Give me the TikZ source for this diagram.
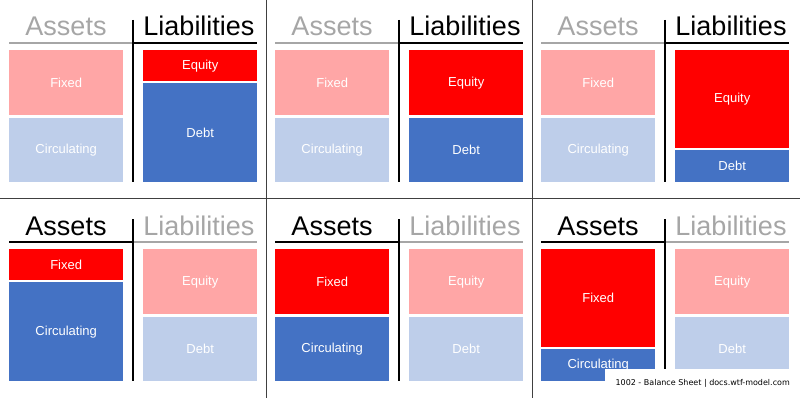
\documentclass[tikz,border=0pt]{standalone}
\usepackage{fontspec}
\setmainfont{Liberation Sans}
\newfontfamily\wmfont{DejaVu Sans}
\usepackage{tikz}
\usetikzlibrary{positioning}
\definecolor{eqred}{HTML}{FF0000}
\definecolor{debtblue}{HTML}{4472C4}
\definecolor{sepgray}{HTML}{404040}
\tikzstyle{block} = [inner sep=0pt, anchor=north west, minimum width=114pt, text=white, font=\fontsize{13}{15}\selectfont]
\tikzstyle{heading} = [inner sep=0pt, anchor=base, font=\fontsize{27}{30}\selectfont]
\tikzstyle{rule} = [line width=2pt]
\tikzstyle{sep} = [sepgray, line width=1pt]

\begin{document}
\begin{tikzpicture}[x=1pt, y=-1pt]
			\useasboundingbox (0,0) rectangle (800,398);
			%panel / shift x / shift y / assets on / liab on / fixed end / circ start / equity end / debt start
			\foreach \i/\ox/\oy/\pa/\pl/\fa/\fb/\ea/\eb in {
				1/0/0/35/100/115/118/81/83,
				2/266/0/35/100/115/118/115/118,
				3/532/0/35/100/115/118/148/150,
				4/0/199/100/35/81/83/115/118,
				5/266/199/100/35/115/118/115/118,
				6/532/199/100/35/148/150/115/118}{
				\begin{scope}[shift={(\ox,\oy)}]
					\pgfmathsetmacro{\hf}{\fa-50}
					\pgfmathsetmacro{\hc}{182-\fb}
					\pgfmathsetmacro{\he}{\ea-50}
					\pgfmathsetmacro{\hd}{182-\eb}
					%assets side
					\node[block, fill=eqred!\pa, minimum height=\hf pt] (fix\i) at (9,50) {Fixed};
					\node[block, fill=debtblue!\pa, minimum height=\hc pt] (cir\i) at (9,\fb) {Circulating};
					%liabilities side
					\node[block, fill=eqred!\pl, minimum height=\he pt] (eq\i) at (143,50) {Equity};
					\node[block, fill=debtblue!\pl, minimum height=\hd pt] (debt\i) at (143,\eb) {Debt};
					%headings
					\node[heading, text=black!\pa] (as\i) at (66,36) {Assets};
					\node[heading, text=black!\pl] (li\i) at (199,36) {Liabilities};
					%the T
					\coordinate (hl\i) at (9,43);
					\coordinate (hm\i) at (133,43);
					\coordinate (hr\i) at (257,43);
					\coordinate (vt\i) at (133,20);
					\coordinate (vb\i) at (133,182);
					\draw[rule, black!\pa] (hl\i) -- (hm\i);
					\draw[rule, black!\pl] (hm\i) -- (hr\i);
					\draw[rule] (vt\i) -- (vb\i);
				\end{scope}
			}
			
			%separators
			\coordinate (s1t) at (266,0);
			\coordinate (s1b) at (266,398);
			\coordinate (s2t) at (532,0);
			\coordinate (s2b) at (532,398);
			\coordinate (s3l) at (0,199);
			\coordinate (s3r) at (800,199);
			\draw[sep] (s1t) -- (s1b);
			\draw[sep] (s2t) -- (s2b);
			\draw[sep] (s3l) -- (s3r);
			
			\node[fill=white, inner sep=0pt, anchor=north west, minimum width=195pt, minimum height=29pt, font=\wmfont\fontsize{8}{10}\selectfont] (wm) at (605,369) {1002 - Balance Sheet | docs.wtf-model.com};
			
		\end{tikzpicture}
\end{document}
